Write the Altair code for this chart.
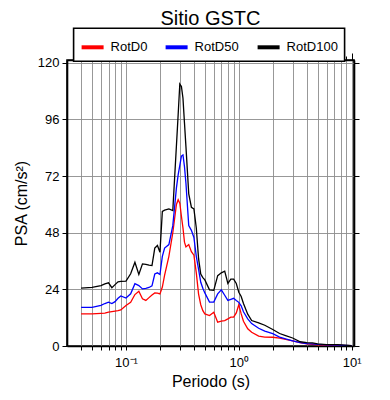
import altair as alt
import pandas as pd

periods = [0.04, 0.05, 0.06, 0.065, 0.07, 0.075, 0.08, 0.085, 0.09, 0.1,
           0.11, 0.12, 0.13, 0.14, 0.15, 0.16, 0.17, 0.18, 0.19, 0.2,
           0.21, 0.22, 0.24, 0.26, 0.28, 0.29, 0.3, 0.31, 0.32, 0.33,
           0.34, 0.36, 0.38, 0.4, 0.42, 0.44, 0.46, 0.48, 0.5, 0.55,
           0.6, 0.65, 0.7, 0.75, 0.8, 0.85, 0.9, 0.95, 1.0, 1.05,
           1.1, 1.2, 1.3, 1.5, 1.7, 2.0, 2.3, 2.6, 3.0, 3.5,
           4.0, 4.5, 5.0, 6.0, 7.5, 10.0]

rotd100 = [24.5, 24.8, 25.6, 26.3, 26.8, 24.7, 26.0, 27.2, 27.4, 27.5,
           30.6, 35.5, 30.3, 34.8, 34.6, 34.3, 34.1, 41.5, 42.6, 39.7,
           57.0, 57.6, 58.1, 57.4, 85.0, 98.0, 111.0, 110.0, 105.0, 94.5,
           84.5, 64.5, 58.8, 58.1, 50.0, 37.0, 30.5, 29.0, 28.0, 23.8,
           23.6, 29.8, 31.0, 31.7, 26.5, 28.3, 28.3, 26.5, 22.8, 21.0,
           18.0, 13.5, 10.8, 9.8, 8.8, 7.0, 5.3, 4.4, 3.4, 1.8,
           1.4, 1.3, 0.9, 0.6, 0.6, 0.2]

rotd50 = [16.4, 16.4, 17.2, 18.0, 18.6, 18.0, 18.8, 20.2, 21.2, 20.3,
          22.1, 26.4, 25.6, 24.2, 24.4, 24.8, 25.5, 30.5, 31.0, 30.3,
          38.0, 41.5, 43.0, 51.0, 67.0, 72.5, 76.5, 80.5, 81.0, 76.0,
          69.0, 51.0, 49.0, 46.0, 38.0, 32.5, 27.0, 24.5, 22.5, 18.6,
          18.6, 22.1, 23.8, 21.5, 19.3, 19.8, 20.2, 19.3, 18.5, 17.0,
          14.5, 11.5, 9.5, 7.5, 6.3, 5.2, 3.8, 3.0, 2.2, 1.4,
          1.0, 0.9, 0.7, 0.5, 0.4, 0.2]

rotd0 = [13.6, 13.6, 13.8, 13.9, 14.4, 14.6, 14.8, 15.0, 15.3, 17.2,
         18.5, 21.8, 23.2, 20.0, 19.3, 20.5, 21.6, 22.5, 22.4, 22.1,
         25.0, 30.0, 38.0, 48.0, 60.0, 62.0, 60.5, 55.0, 50.0, 44.0,
         42.0, 43.0, 40.0, 38.5, 31.0, 22.0, 17.5, 15.0, 13.6, 12.9,
         14.3, 10.1, 10.5, 10.8, 11.5, 12.2, 12.2, 14.0, 17.5, 13.6,
         10.5, 7.3, 5.8, 4.2, 3.8, 3.7, 3.3, 2.8, 2.2, 1.4,
         0.9, 0.7, 0.5, 0.4, 0.3, 0.1]

series_names = ["RotD0", "RotD50", "RotD100"]
series_colors = ["red", "blue", "black"]

x_ticks = [0.04, 0.05, 0.06, 0.07, 0.08, 0.09,
           0.1, 0.2, 0.3, 0.4, 0.5, 0.6, 0.7, 0.8, 0.9,
           1, 2, 3, 4, 5, 6, 7, 8, 9, 10]
x_major = [0.1, 1, 10]
y_ticks = [0, 24, 48, 72, 96, 120]

rows = []
for name, vals in zip(series_names, [rotd0, rotd50, rotd100]):
    for t, v in zip(periods, vals):
        rows.append({"T": t, "PSA": v, "serie": name})
df = pd.DataFrame(rows)

FONT = "Liberation Sans"
xscale = alt.Scale(type="log", domain=[0.03, 10.5], nice=False)
yscale = alt.Scale(domain=[0, 121.2], nice=False)

label_expr = ("datum.value > 0.099 && datum.value < 0.101 ? '10⁻¹' : "
              "(datum.value > 0.99 && datum.value < 1.01 ? '10⁰' : "
              "(datum.value > 9.9 && datum.value < 10.1 ? '10¹' : ''))")

lines = alt.Chart(df).mark_line(strokeWidth=1.3, clip=True).encode(
    x=alt.X("T:Q", scale=xscale,
            axis=alt.Axis(values=x_ticks, labelExpr=label_expr, grid=True,
                          title="Periodo (s)", tickSize=4, labelPadding=6,
                          titlePadding=4, labelFlush=False)),
    y=alt.Y("PSA:Q", scale=yscale,
            axis=alt.Axis(values=y_ticks, grid=True, title="PSA (cm/s²)",
                          tickSize=5, labelPadding=3, titlePadding=8)),
    color=alt.Color("serie:N",
                    scale=alt.Scale(domain=series_names, range=series_colors),
                    sort=series_names,
                    legend=alt.Legend(orient="none", legendX=6.6, legendY=-31.7,
                                      direction="horizontal", title=None,
                                      symbolType="stroke", symbolStrokeWidth=4,
                                      symbolSize=484, labelFontSize=13,
                                      labelFont=FONT, labelOffset=5,
                                      strokeColor="black", fillColor="white",
                                      padding=6, columnPadding=10)),
)

frame_axes = alt.Chart(df).mark_line(opacity=0).encode(
    x=alt.X("T:Q", scale=xscale,
            axis=alt.Axis(orient="top", values=x_ticks, labels=False, title=None,
                          grid=False, tickSize=4)),
    y=alt.Y("PSA:Q", scale=yscale,
            axis=alt.Axis(orient="right", values=y_ticks, labels=False, title=None,
                          grid=False, tickSize=5)),
)

major_top = alt.Chart(df).mark_line(opacity=0).encode(
    x=alt.X("T:Q", scale=xscale,
            axis=alt.Axis(orient="top", values=x_major, labels=False, title=None,
                          grid=False, tickSize=7, domain=False)),
    y=alt.Y("PSA:Q", scale=yscale, axis=None),
)

chart = alt.layer(lines, frame_axes, major_top).resolve_scale(
    x="independent", y="independent"
).properties(
    width=287, height=286,
    padding={"left": 59, "top": 52, "right": 28, "bottom": 46},
    autosize="none",
    title=alt.Title("Sitio GSTC", fontSize=20, font=FONT, fontWeight="normal",
                    anchor="middle", offset=-1.5, color="black"),
).configure_view(
    stroke="black", strokeWidth=1.6
).configure_axis(
    labelFont=FONT, titleFont=FONT, labelFontSize=13, titleFontSize=16,
    titleFontWeight="normal", labelColor="black", titleColor="black",
    domainColor="black", domainWidth=1.6, tickColor="black", tickWidth=1,
    gridColor="#8c8c8c", gridWidth=0.9, gridOpacity=1
).configure_legend(
    strokeWidth=1.6
)

chart.save("out.html", embed_options={"renderer": "svg", "actions": False})
